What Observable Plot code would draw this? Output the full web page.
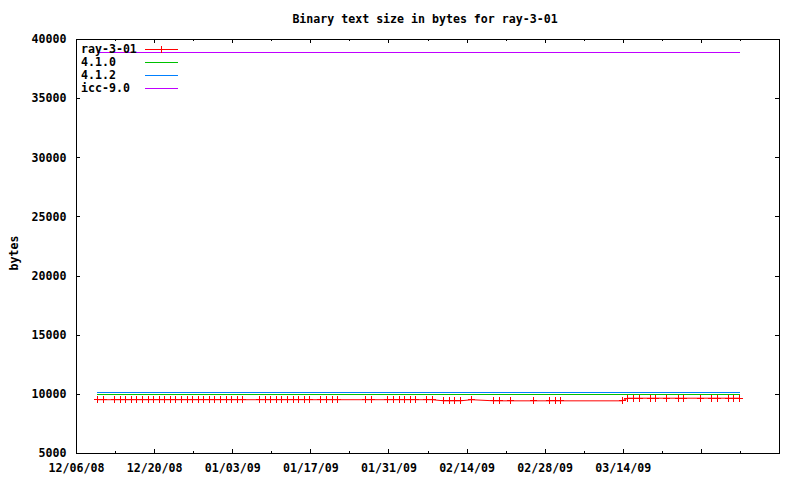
<!DOCTYPE html>
<html><head><meta charset="utf-8">
<script src="https://cdn.jsdelivr.net/npm/d3@7"></script>
<script src="https://cdn.jsdelivr.net/npm/@observablehq/plot@0.6"></script>
<style>
body{margin:0;background:#fff;}
#wrap{position:relative;width:800px;height:480px;overflow:hidden;font-family:"DejaVu Sans Mono",monospace;font-weight:bold;font-size:11.6px;color:#000;}
#title{position:absolute;left:74px;width:702px;top:12px;line-height:14px;text-align:center;white-space:pre;}
#chart{position:absolute;left:0;top:30px;}
#ylab{position:absolute;left:14px;top:253px;transform:translate(-50%,-50%) rotate(-90deg);white-space:pre;line-height:14px;}
.lg{position:absolute;left:81px;height:14px;line-height:14px;white-space:pre;}
#legendsvg{position:absolute;left:0;top:0;}
</style></head><body>
<div id="wrap">
  <div id="title">Binary text size in bytes for ray-3-01</div>
  <div id="chart"></div>
  <div id="ylab">bytes</div>
  <div id="legend"></div>
</div>
<script>
// ---- data ----
const runTime = "T19:40Z";
const runDates = [
  "2008-12-09","2008-12-10","2008-12-12","2008-12-13","2008-12-14","2008-12-15","2008-12-16","2008-12-17",
  "2008-12-18","2008-12-19","2008-12-20","2008-12-21","2008-12-22","2008-12-23","2008-12-24","2008-12-25",
  "2008-12-26","2008-12-27","2008-12-28","2008-12-29","2008-12-30","2008-12-31",
  "2009-01-01","2009-01-02","2009-01-03","2009-01-04","2009-01-07","2009-01-08","2009-01-09","2009-01-10",
  "2009-01-11","2009-01-12","2009-01-13","2009-01-14","2009-01-15","2009-01-16","2009-01-18","2009-01-19",
  "2009-01-20","2009-01-21","2009-01-26","2009-01-27","2009-01-30","2009-01-31",
  "2009-02-01","2009-02-02","2009-02-03","2009-02-04","2009-02-06","2009-02-07",
  "2009-02-09","2009-02-10","2009-02-11","2009-02-12","2009-02-14","2009-02-18","2009-02-19","2009-02-21",
  "2009-02-25","2009-02-28","2009-03-01","2009-03-02","2009-03-13",
  "2009-03-14","2009-03-15","2009-03-16","2009-03-18","2009-03-19","2009-03-21","2009-03-23","2009-03-24",
  "2009-03-27","2009-03-29","2009-03-30","2009-04-01","2009-04-02","2009-04-03"
];
const ray301 = [
  9548,9548,9548,9548,9548,9548,9548,9548,
  9548,9548,9548,9548,9548,9548,9548,9548,
  9548,9548,9548,9548,9548,9548,
  9548,9548,9548,9548,9548,9548,9548,9548,
  9548,9548,9548,9548,9548,9548,9548,9548,
  9548,9548,9548,9548,9548,9548,
  9548,9548,9548,9548,9548,9548,
  9452,9452,9452,9452,9548,9452,9452,9452,
  9452,9452,9452,9452,9452,
  9676,9676,9676,9676,9676,9676,9676,9676,
  9676,9676,9676,9676,9676,9676
];
const flatDates = ["2008-12-09", "2009-04-03"];
const gcc410 = [9960, 9960];
const gcc412 = [10130, 10130];
const icc90 = [38885, 38885];

const seriesNames = ["ray-3-01", "4.1.0", "4.1.2", "icc-9.0"];
const seriesColors = ["#ff0000", "#00c000", "#0080ff", "#c000ff"];

const xDomain = ["2008-12-06", "2009-04-11"];
const xMajorTicks = ["2008-12-06","2008-12-20","2009-01-03","2009-01-17","2009-01-31","2009-02-14","2009-02-28","2009-03-14","2009-03-28","2009-04-11"];
const xMinorTicks = ["2008-12-13","2008-12-27","2009-01-10","2009-01-24","2009-02-07","2009-02-21","2009-03-07","2009-03-21","2009-04-04"];
const xLabelTicks = ["2008-12-06","2008-12-20","2009-01-03","2009-01-17","2009-01-31","2009-02-14","2009-02-28","2009-03-14"];
const yTicks = [5000,10000,15000,20000,25000,30000,35000,40000];

// ---- build ----
const toDate = s => new Date(s + "T00:00Z");
const redData = runDates.map((d, i) => ({date: new Date(d + runTime), v: ray301[i]}));
const flat = vals => flatDates.map((d, i) => ({date: new Date(d + runTime), v: vals[i]}));

const W = 800, H = 450, mL = 76, mR = 21, mT = 9, mB = 27;
const innerW = W - mL - mR, innerH = H - mT - mB;

const plusSym = {draw(ctx, size) {
  const r = Math.sqrt(size / Math.PI);
  ctx.moveTo(-r, 0); ctx.lineTo(r, 0);
  ctx.moveTo(0, -r); ctx.lineTo(0, r);
}};

const chart = Plot.plot({
  width: W, height: H,
  marginLeft: mL, marginRight: mR, marginTop: mT, marginBottom: mB,
  style: {fontFamily: "DejaVu Sans Mono, monospace", fontWeight: "bold", fontSize: "11.6px", color: "#000", background: "transparent"},
  x: {type: "utc", domain: xDomain.map(toDate)},
  y: {domain: [5000, 40000]},
  marks: [
    Plot.axisX(xLabelTicks.map(toDate), {tickSize: 0, tickPadding: 10, tickFormat: d3.utcFormat("%m/%d/%y"), label: null, fill: "#000"}),
    Plot.axisY(yTicks, {tickSize: 0, tickPadding: 10, tickFormat: d3.format("d"), label: null, fill: "#000"}),
    Plot.tickX(xMajorTicks.map(toDate), {x: d => d, insetTop: innerH - 4, stroke: "#000", shapeRendering: "crispEdges"}),
    Plot.tickX(xMajorTicks.map(toDate), {x: d => d, insetBottom: innerH - 4, stroke: "#000", shapeRendering: "crispEdges"}),
    Plot.tickX(xMinorTicks.map(toDate), {x: d => d, insetTop: innerH - 2, stroke: "#000", shapeRendering: "crispEdges"}),
    Plot.tickX(xMinorTicks.map(toDate), {x: d => d, insetBottom: innerH - 2, stroke: "#000", shapeRendering: "crispEdges"}),
    Plot.tickY(yTicks, {y: d => d, insetRight: innerW - 4, stroke: "#000", shapeRendering: "crispEdges"}),
    Plot.tickY(yTicks, {y: d => d, insetLeft: innerW - 4, stroke: "#000", shapeRendering: "crispEdges"}),
    Plot.frame({stroke: "#000", shapeRendering: "crispEdges"}),
    Plot.line(redData, {x: "date", y: "v", stroke: seriesColors[0], strokeWidth: 1}),
    Plot.dot(redData, {x: "date", y: "v", symbol: plusSym, r: 3.5, stroke: seriesColors[0], strokeWidth: 1, fill: "none", shapeRendering: "crispEdges"}),
    Plot.line(flat(gcc410), {x: "date", y: "v", stroke: seriesColors[1], strokeWidth: 1, shapeRendering: "crispEdges"}),
    Plot.line(flat(gcc412), {x: "date", y: "v", stroke: seriesColors[2], strokeWidth: 1, shapeRendering: "crispEdges"}),
    Plot.line(flat(icc90), {x: "date", y: "v", stroke: seriesColors[3], strokeWidth: 1, shapeRendering: "crispEdges"})
  ]
});
document.getElementById("chart").appendChild(chart);

// legend (gnuplot style, inside top-left)
const legend = document.getElementById("legend");
const rowCenters = [49, 62, 75, 88];
const NS = "http://www.w3.org/2000/svg";
const lsvg = document.createElementNS(NS, "svg");
lsvg.setAttribute("id", "legendsvg");
lsvg.setAttribute("width", 800);
lsvg.setAttribute("height", 100);
function ln(x1, y1, x2, y2, color) {
  const l = document.createElementNS(NS, "line");
  l.setAttribute("x1", x1); l.setAttribute("y1", y1);
  l.setAttribute("x2", x2); l.setAttribute("y2", y2);
  l.setAttribute("stroke", color); l.setAttribute("stroke-width", 1);
  l.setAttribute("shape-rendering", "crispEdges");
  lsvg.appendChild(l);
}
seriesNames.forEach((name, i) => {
  const t = document.createElement("div");
  t.className = "lg"; t.style.top = (rowCenters[i] - 7) + "px"; t.textContent = name;
  legend.appendChild(t);
  ln(145, rowCenters[i] + 0.5, 178, rowCenters[i] + 0.5, seriesColors[i]);
  if (i === 0) ln(161.5, rowCenters[i] - 3, 161.5, rowCenters[i] + 4, seriesColors[i]);
});
legend.appendChild(lsvg);
</script>
</body></html>
